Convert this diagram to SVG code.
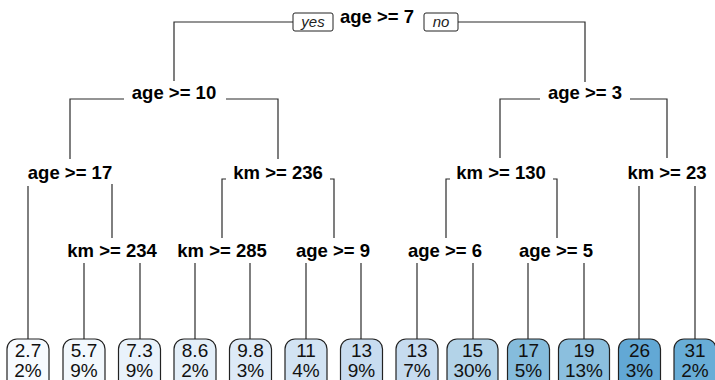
<svg xmlns="http://www.w3.org/2000/svg" width="715" height="380" viewBox="0 0 715 380">
<style>
  .split { font-family: "Liberation Sans", Arial, sans-serif; font-weight: bold; font-size: 18.5px; fill: #000; text-anchor: middle; }
  .yn { font-family: "Liberation Sans", Arial, sans-serif; font-style: italic; font-size: 15px; fill: #222; text-anchor: middle; }
  .ynbox { fill: #fff; stroke: #222; stroke-width: 1; }
  .leaf rect { stroke: #222; stroke-width: 1.2; }
  .leaf text { font-family: "Liberation Sans", Arial, sans-serif; font-size: 19px; fill: #111; text-anchor: middle; }
  .conn path { fill: none; stroke: #2a2a2a; stroke-width: 1.2; }
</style>
<rect width="715" height="380" fill="#fff"/>

<g id="connectors" class="conn">
  <path d="M293,22 H174 V81"/>
  <path d="M458,22 H585 V82"/>
  <path d="M124,99 H70 V159"/>
  <path d="M226,99 H278 V159"/>
  <path d="M540,99 H500 V158"/>
  <path d="M630,99 H667 V158"/>
  <path d="M28,186 V339"/>
  <path d="M112,184 V238"/>
  <path d="M226,179 H222 V238"/>
  <path d="M330,179 H334 V238"/>
  <path d="M450,179 H446 V238"/>
  <path d="M553,179 H557 V238"/>
  <path d="M639,186 V339"/>
  <path d="M695,186 V339"/>
  <path d="M84,263 V339"/>
  <path d="M140,263 V339"/>
  <path d="M195,263 V339"/>
  <path d="M250,263 V339"/>
  <path d="M306,263 V339"/>
  <path d="M361,263 V339"/>
  <path d="M417,263 V339"/>
  <path d="M473,263 V339"/>
  <path d="M528,263 V339"/>
  <path d="M584,263 V339"/>
</g>

<g id="n1">
  <text class="split" x="377" y="23">age &gt;= 7</text>
  <rect class="ynbox" x="293" y="13" width="40" height="18" rx="2"/>
  <text class="yn" x="313" y="27">yes</text>
  <rect class="ynbox" x="424" y="13" width="34" height="18" rx="2"/>
  <text class="yn" x="441" y="27">no</text>
</g>
<g id="n2"><text class="split" x="174" y="99">age &gt;= 10</text></g>
<g id="n3"><text class="split" x="585" y="99">age &gt;= 3</text></g>
<g id="n4"><text class="split" x="70" y="179">age &gt;= 17</text></g>
<g id="n5"><text class="split" x="278" y="179">km &gt;= 236</text></g>
<g id="n6"><text class="split" x="501" y="179">km &gt;= 130</text></g>
<g id="n7"><text class="split" x="667" y="179">km &gt;= 23</text></g>
<g id="n9"><text class="split" x="112" y="257">km &gt;= 234</text></g>
<g id="n10"><text class="split" x="222" y="257">km &gt;= 285</text></g>
<g id="n11"><text class="split" x="333" y="257">age &gt;= 9</text></g>
<g id="n12"><text class="split" x="445" y="257">age &gt;= 6</text></g>
<g id="n13"><text class="split" x="556" y="257">age &gt;= 5</text></g>

<g id="leaf1" class="leaf"><rect x="7" y="339" width="42" height="56" rx="10" fill="#F7FBFF"/><text x="28" y="357">2.7</text><text x="28" y="377">2%</text></g>
<g id="leaf2" class="leaf"><rect x="63" y="339" width="42" height="56" rx="10" fill="#F2F8FD"/><text x="84" y="357">5.7</text><text x="84" y="377">9%</text></g>
<g id="leaf3" class="leaf"><rect x="118.5" y="339" width="42" height="56" rx="10" fill="#E9F2FB"/><text x="139.5" y="357">7.3</text><text x="139.5" y="377">9%</text></g>
<g id="leaf4" class="leaf"><rect x="174" y="339" width="42" height="56" rx="10" fill="#E4EFF9"/><text x="195" y="357">8.6</text><text x="195" y="377">2%</text></g>
<g id="leaf5" class="leaf"><rect x="229.5" y="339" width="42" height="56" rx="10" fill="#DDEAF7"/><text x="250.5" y="357">9.8</text><text x="250.5" y="377">3%</text></g>
<g id="leaf6" class="leaf"><rect x="285" y="339" width="42" height="56" rx="10" fill="#D2E3F3"/><text x="306" y="357">11</text><text x="306" y="377">4%</text></g>
<g id="leaf7" class="leaf"><rect x="340.5" y="339" width="42" height="56" rx="10" fill="#C8DCF0"/><text x="361.5" y="357">13</text><text x="361.5" y="377">9%</text></g>
<g id="leaf8" class="leaf"><rect x="396" y="339" width="42" height="56" rx="10" fill="#C6DBEF"/><text x="417" y="357">13</text><text x="417" y="377">7%</text></g>
<g id="leaf9" class="leaf"><rect x="447" y="339" width="51" height="56" rx="10" fill="#B3D3E8"/><text x="472.5" y="357">15</text><text x="472.5" y="377">30%</text></g>
<g id="leaf10" class="leaf"><rect x="507.5" y="339" width="42" height="56" rx="10" fill="#85BCDC"/><text x="528.5" y="357">17</text><text x="528.5" y="377">5%</text></g>
<g id="leaf11" class="leaf"><rect x="558.5" y="339" width="51" height="56" rx="10" fill="#8BBFDE"/><text x="584" y="357">19</text><text x="584" y="377">13%</text></g>
<g id="leaf12" class="leaf"><rect x="618.5" y="339" width="42" height="56" rx="10" fill="#62A8D5"/><text x="639.5" y="357">26</text><text x="639.5" y="377">3%</text></g>
<g id="leaf13" class="leaf"><rect x="674" y="339" width="42" height="56" rx="10" fill="#68ADD7"/><text x="695" y="357">31</text><text x="695" y="377">2%</text></g>
</svg>
